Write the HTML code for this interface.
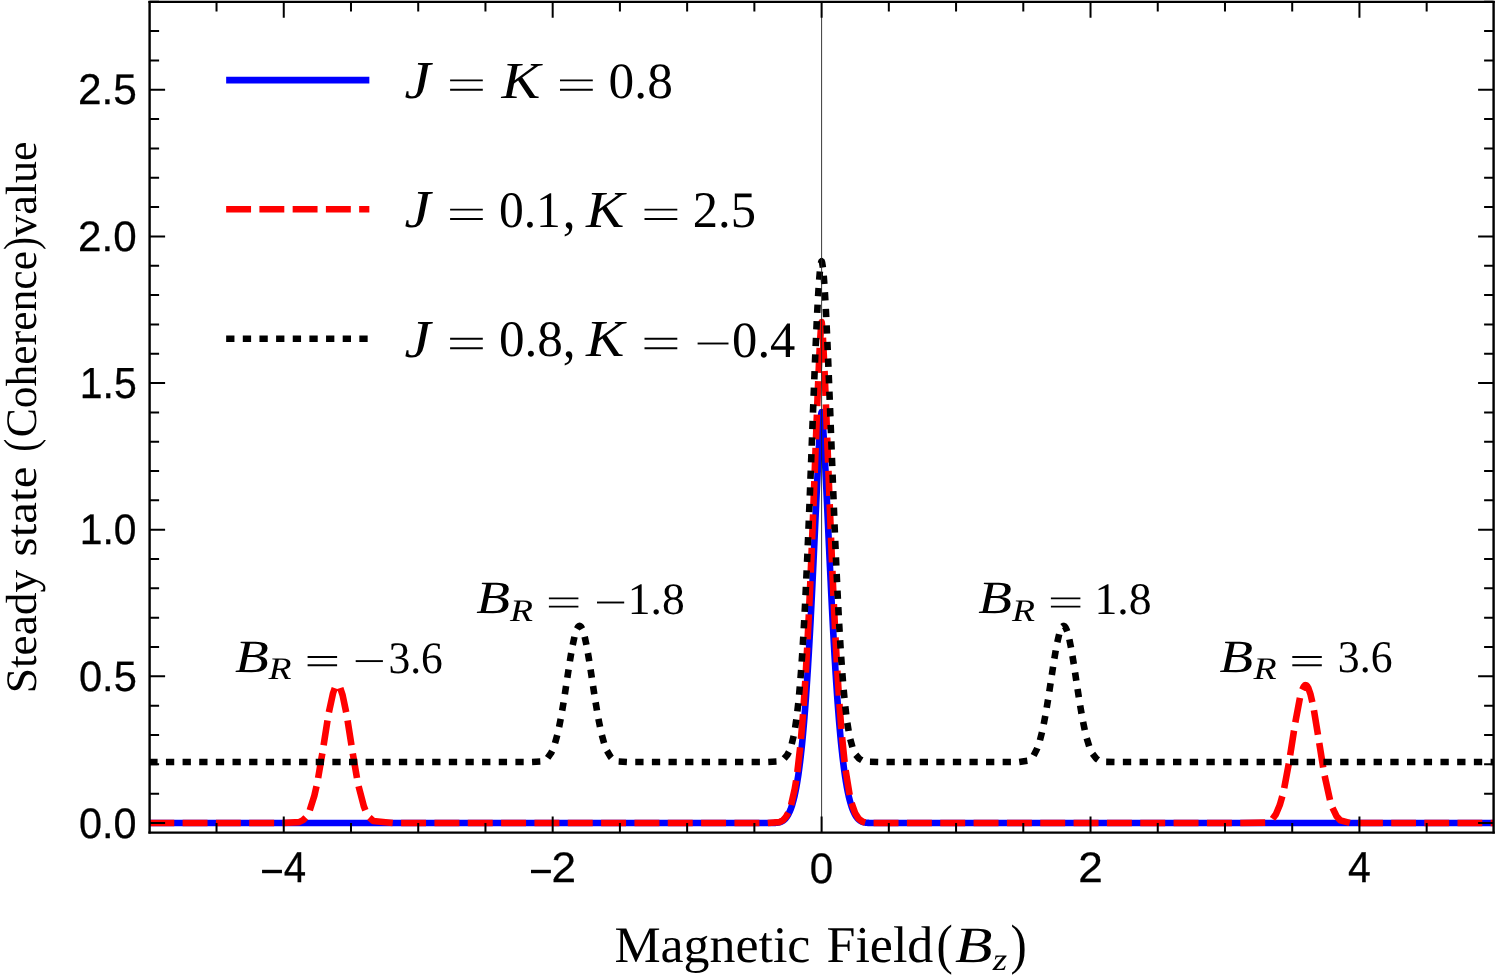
<!DOCTYPE html>
<html><head><meta charset="utf-8"><title>chart</title>
<style>svg text{text-rendering:geometricPrecision}html,body{margin:0;padding:0;background:#fff;overflow:hidden}body{width:1495px;height:978px;font-family:"Liberation Sans",sans-serif}</style></head>
<body>
<svg width="1495" height="978" viewBox="0 0 1495 978" style="display:block;will-change:transform">
<rect width="1495" height="978" fill="#fff"/>
<defs><clipPath id="cp"><rect x="149.60" y="1.75" width="1347.00" height="830.85"/></clipPath></defs>
<g clip-path="url(#cp)" fill="none" stroke-linejoin="round" stroke-linecap="butt">
<path d="M149.30 823.00 L770.84 822.99 L772.19 822.98 L772.86 822.96 L773.53 822.95 L773.87 822.94 L774.20 822.92 L774.54 822.91 L774.88 822.89 L775.21 822.87 L775.55 822.85 L775.88 822.83 L776.22 822.80 L776.56 822.77 L776.89 822.73 L777.23 822.69 L777.56 822.64 L777.90 822.59 L778.24 822.53 L778.57 822.47 L778.91 822.39 L779.25 822.31 L779.58 822.23 L779.92 822.13 L780.25 822.02 L780.59 821.90 L780.93 821.78 L781.26 821.63 L781.60 821.48 L781.93 821.32 L782.27 821.14 L782.61 820.94 L782.94 820.73 L783.28 820.50 L783.62 820.26 L783.95 819.99 L784.29 819.71 L784.62 819.41 L784.96 819.08 L785.30 818.73 L785.63 818.36 L785.97 817.97 L786.30 817.55 L786.64 817.10 L786.98 816.63 L787.31 816.12 L787.65 815.59 L787.99 815.02 L788.32 814.43 L788.66 813.80 L788.99 813.13 L789.33 812.43 L789.67 811.69 L790.00 810.92 L790.34 810.10 L790.67 809.24 L791.01 808.34 L791.35 807.39 L791.68 806.40 L792.02 805.36 L792.35 804.28 L792.69 803.14 L793.03 801.95 L793.36 800.71 L793.70 799.41 L794.04 798.05 L794.37 796.64 L794.71 795.16 L795.04 793.62 L795.38 792.02 L795.72 790.35 L796.05 788.62 L796.39 786.81 L796.72 784.93 L797.06 782.98 L797.40 780.95 L797.73 778.84 L798.07 776.66 L798.41 774.39 L798.74 772.03 L799.08 769.59 L799.41 767.06 L799.75 764.44 L800.09 761.73 L800.42 758.92 L800.76 756.02 L801.09 753.01 L801.43 749.91 L801.77 746.70 L802.10 743.38 L802.44 739.96 L802.78 736.43 L803.11 732.78 L803.45 729.03 L803.78 725.15 L804.12 721.17 L804.46 717.06 L804.79 712.83 L805.13 708.48 L805.46 704.01 L805.80 699.42 L806.14 694.70 L806.47 689.86 L806.81 684.89 L807.15 679.80 L807.48 674.58 L807.82 669.23 L808.15 663.76 L808.49 658.16 L808.83 652.44 L809.16 646.60 L809.50 640.63 L809.83 634.55 L810.17 628.35 L810.51 622.03 L810.84 615.61 L811.18 609.07 L811.52 602.43 L811.85 595.70 L812.19 588.87 L812.52 581.95 L812.86 574.96 L813.20 567.89 L813.53 560.75 L813.87 553.55 L814.20 546.31 L814.54 539.03 L814.88 531.72 L815.21 524.40 L815.55 517.07 L815.89 509.76 L816.22 502.47 L816.56 495.23 L816.89 488.05 L817.23 480.96 L817.57 473.97 L817.90 467.10 L818.24 460.40 L818.57 453.87 L818.91 447.56 L819.25 441.51 L819.58 435.76 L819.92 430.35 L820.26 425.35 L820.59 420.85 L820.93 416.96 L821.26 413.86 L821.60 412.09 L821.94 413.86 L822.27 416.96 L822.61 420.85 L822.94 425.35 L823.28 430.35 L823.62 435.76 L823.95 441.51 L824.29 447.56 L824.63 453.87 L824.96 460.40 L825.30 467.10 L825.63 473.97 L825.97 480.96 L826.31 488.05 L826.64 495.23 L826.98 502.47 L827.31 509.76 L827.65 517.07 L827.99 524.40 L828.32 531.72 L828.66 539.03 L829.00 546.31 L829.33 553.55 L829.67 560.75 L830.00 567.89 L830.34 574.96 L830.68 581.95 L831.01 588.87 L831.35 595.70 L831.68 602.43 L832.02 609.07 L832.36 615.61 L832.69 622.03 L833.03 628.35 L833.37 634.55 L833.70 640.63 L834.04 646.60 L834.37 652.44 L834.71 658.16 L835.05 663.76 L835.38 669.23 L835.72 674.58 L836.05 679.80 L836.39 684.89 L836.73 689.86 L837.06 694.70 L837.40 699.42 L837.74 704.01 L838.07 708.48 L838.41 712.83 L838.74 717.06 L839.08 721.17 L839.42 725.15 L839.75 729.03 L840.09 732.78 L840.42 736.43 L840.76 739.96 L841.10 743.38 L841.43 746.70 L841.77 749.91 L842.11 753.01 L842.44 756.02 L842.78 758.92 L843.11 761.73 L843.45 764.44 L843.79 767.06 L844.12 769.59 L844.46 772.03 L844.79 774.39 L845.13 776.66 L845.47 778.84 L845.80 780.95 L846.14 782.98 L846.48 784.93 L846.81 786.81 L847.15 788.62 L847.48 790.35 L847.82 792.02 L848.16 793.62 L848.49 795.16 L848.83 796.64 L849.16 798.05 L849.50 799.41 L849.84 800.71 L850.17 801.95 L850.51 803.14 L850.85 804.28 L851.18 805.36 L851.52 806.40 L851.85 807.39 L852.19 808.34 L852.53 809.24 L852.86 810.10 L853.20 810.92 L853.53 811.69 L853.87 812.43 L854.21 813.13 L854.54 813.80 L854.88 814.43 L855.22 815.02 L855.55 815.59 L855.89 816.12 L856.22 816.63 L856.56 817.10 L856.90 817.55 L857.23 817.97 L857.57 818.36 L857.90 818.73 L858.24 819.08 L858.58 819.41 L858.91 819.71 L859.25 819.99 L859.58 820.26 L859.92 820.50 L860.26 820.73 L860.59 820.94 L860.93 821.14 L861.27 821.32 L861.60 821.48 L861.94 821.63 L862.27 821.78 L862.61 821.90 L862.95 822.02 L863.28 822.13 L863.62 822.23 L863.95 822.31 L864.29 822.39 L864.63 822.47 L864.96 822.53 L865.30 822.59 L865.64 822.64 L865.97 822.69 L866.31 822.73 L866.64 822.77 L866.98 822.80 L867.32 822.83 L867.65 822.85 L867.99 822.87 L868.32 822.89 L868.66 822.91 L869.00 822.92 L869.33 822.94 L869.67 822.95 L870.34 822.96 L871.01 822.98 L872.02 822.99 L874.04 823.00 L1493.90 823.00" stroke="#0000ff" stroke-width="6.6"/>
<path d="M149.30 823.00 L174.24 823.00 M182.60 823.00 L207.53 823.00 M215.90 823.00 L240.83 823.00 M249.19 823.00 L274.13 823.00 M282.49 823.00 L299.05 822.17 L303.09 820.15 L305.73 817.47 M309.76 810.18 L314.35 795.65 L316.51 786.20 M318.14 778.00 L322.32 753.42 M323.62 745.16 L327.50 720.53 M328.91 712.29 L333.01 693.25 L334.83 688.11 M340.24 688.07 L342.59 695.08 L346.17 712.27 M347.58 720.52 L351.47 745.18 M352.77 753.45 L356.96 778.05 M358.59 786.26 L363.93 806.54 L365.36 810.26 M369.42 817.55 L373.34 821.04 L392.72 823.00 M401.09 823.00 L426.05 823.00 M434.43 823.00 L459.39 823.00 M467.76 823.00 L492.72 823.00 M501.09 823.00 L526.06 823.00 M534.43 823.00 L559.39 823.00 M567.76 823.00 L592.72 823.00 M601.09 823.00 L626.06 823.00 M634.43 823.00 L659.39 823.00 M667.76 823.00 L692.72 823.00 M701.09 823.00 L726.06 823.00 M734.43 823.00 L759.39 823.00 M767.76 823.00 L779.41 822.11 L783.11 820.10 L786.14 816.61 L788.22 812.78 M791.07 804.92 L794.71 789.06 L796.14 780.50 M797.33 772.21 L800.17 747.41 M800.97 739.08 L803.02 714.20 M803.63 705.85 L805.28 680.94 M805.79 672.59 L807.19 647.66 M807.62 639.31 L808.86 614.37 M809.25 606.01 L810.37 581.07 M810.73 572.71 L811.78 547.77 M812.11 539.41 L813.10 514.46 M813.42 506.10 L814.38 481.15 M814.69 472.79 L815.63 447.84 M815.95 439.48 L816.90 414.54 M817.22 406.17 L818.23 381.23 M818.58 372.87 L819.73 347.93 M820.18 339.57 L821.10 325.96 L821.43 322.83 L821.60 322.04 L821.77 322.83 L822.37 329.37 M822.91 337.72 L824.17 362.65 M824.54 371.01 L825.57 395.95 M825.90 404.32 L826.87 429.26 M827.18 437.63 L828.12 462.57 M828.44 470.94 L829.38 495.88 M829.70 504.25 L830.68 529.19 M831.01 537.55 L832.03 562.49 M832.39 570.86 L833.48 595.80 M833.86 604.16 L835.06 629.09 M835.48 637.45 L836.82 662.38 M837.30 670.74 L838.86 695.65 M839.44 704.00 L841.34 728.89 M842.07 737.23 L844.60 762.06 M845.62 770.37 L849.66 795.00 M851.62 803.14 L855.22 813.28 L858.58 818.62 L862.44 821.59 L865.24 822.49 M873.59 822.99 L898.55 823.00 M906.92 823.00 L931.88 823.00 M940.25 823.00 L965.21 823.00 M973.59 823.00 L998.55 823.00 M1006.92 823.00 L1031.88 823.00 M1040.25 823.00 L1065.21 823.00 M1073.59 823.00 L1098.55 823.00 M1106.92 823.00 L1131.88 823.00 M1140.25 823.00 L1165.22 823.00 M1173.59 823.00 L1198.55 823.00 M1206.92 823.00 L1231.88 823.00 M1240.25 823.00 L1265.20 822.59 M1272.56 818.94 L1275.91 814.29 L1279.77 805.06 L1282.31 796.23 M1284.22 788.08 L1288.80 763.54 M1290.14 755.28 L1294.00 730.62 M1295.32 722.35 L1299.93 697.82 M1302.25 689.78 L1303.81 686.53 L1304.82 685.43 L1305.49 685.16 L1306.16 685.25 L1307.00 685.88 L1308.18 687.70 L1310.36 693.84 L1312.35 702.16 M1313.94 710.33 L1317.97 734.82 M1319.25 743.04 L1323.19 767.54 M1324.64 775.73 L1329.99 799.95 M1332.53 807.87 L1336.58 816.23 L1340.45 820.40 L1349.75 822.92 M1358.07 823.00 L1382.89 823.00 M1391.21 823.00 L1416.02 823.00 M1424.34 823.00 L1449.16 823.00 M1457.48 823.00 L1482.29 823.00 M1490.61 823.00 L1493.90 823.00" stroke="#ff0000" stroke-width="6.6"/>
<path d="M149.30 761.99 L157.60 761.99 M165.94 761.99 L174.24 761.99 M182.58 761.99 L190.88 761.99 M199.22 761.99 L207.52 761.99 M215.86 761.99 L224.16 761.99 M232.51 761.99 L240.80 761.99 M249.15 761.99 L257.44 761.99 M265.79 761.99 L274.08 761.99 M282.43 761.99 L290.73 761.99 M299.07 761.99 L307.37 761.99 M315.71 761.99 L324.01 761.99 M332.35 761.99 L340.65 761.99 M348.99 761.99 L357.29 761.99 M365.64 761.99 L373.93 761.99 M382.28 761.99 L390.57 761.99 M398.92 761.99 L407.21 761.99 M415.56 761.99 L423.85 761.99 M432.20 761.99 L440.50 761.99 M448.84 761.99 L457.14 761.99 M465.48 761.99 L473.78 761.99 M482.12 761.99 L490.42 761.99 M498.76 761.99 L507.06 761.99 M515.41 761.99 L523.70 761.99 M532.05 761.99 L540.32 761.57 M547.65 757.90 L551.00 753.18 L552.11 750.95 M555.03 743.14 L557.24 735.15 M559.09 727.01 L560.70 718.87 M562.17 710.66 L563.53 702.48 M564.83 694.23 L566.08 686.03 M567.33 677.78 L568.58 669.58 M569.86 661.33 L571.22 653.15 M572.71 644.94 L574.46 636.83 M576.95 628.87 L578.06 626.89 L578.90 626.10 L579.57 625.90 L580.24 626.10 L581.08 626.89 L582.20 628.87 M584.68 636.81 L586.43 644.91 M587.92 653.12 L589.27 661.29 M590.56 669.53 L591.80 677.72 M593.05 685.96 L594.30 694.15 M595.60 702.39 L596.96 710.56 M598.42 718.77 L600.03 726.90 M601.87 735.03 L604.07 743.01 M606.98 750.82 L610.67 756.98 L611.39 757.79 M618.66 761.54 L626.92 761.99 M635.26 761.99 L643.55 761.99 M651.88 761.99 L660.17 761.99 M668.50 761.99 L676.79 761.99 M685.13 761.99 L693.41 761.99 M701.75 761.99 L710.04 761.99 M718.37 761.99 L726.66 761.99 M734.99 761.99 L743.28 761.99 M751.62 761.99 L759.90 761.99 M768.24 761.95 L776.51 761.51 M784.18 758.54 L787.14 755.16 L788.95 751.86 M791.73 744.01 L793.64 735.95 M795.12 727.74 L796.32 719.55 M797.36 711.27 L798.27 703.04 M799.08 694.74 L799.82 686.49 M800.50 678.18 L801.12 669.92 M801.72 661.60 L802.27 653.33 M802.80 645.02 L803.30 636.74 M803.78 628.42 L804.24 620.15 M804.68 611.82 L805.10 603.55 M805.52 595.22 L805.92 586.95 M806.31 578.62 L806.69 570.34 M807.06 562.01 L807.43 553.74 M807.78 545.41 L808.13 537.13 M808.48 528.80 L808.82 520.52 M809.15 512.19 L809.48 503.91 M809.81 495.58 L810.14 487.30 M810.46 478.97 L810.78 470.69 M811.10 462.36 L811.41 454.08 M811.73 445.75 L812.04 437.47 M812.36 429.14 L812.68 420.86 M812.99 412.53 L813.31 404.25 M813.63 395.92 L813.96 387.64 M814.29 379.31 L814.62 371.03 M814.96 362.70 L815.30 354.42 M815.66 346.09 L816.02 337.82 M816.39 329.49 L816.78 321.21 M817.19 312.88 L817.62 304.61 M818.09 296.29 L818.60 288.02 M819.17 279.70 L819.87 271.44 M820.94 263.18 L821.26 261.88 L821.43 261.49 L821.60 261.33 L821.77 261.49 L822.10 262.46 L822.90 267.41 M823.71 275.69 L824.33 283.94 M824.87 292.24 L825.35 300.49 M825.80 308.80 L826.22 317.06 M826.61 325.37 L826.99 333.63 M827.36 341.94 L827.72 350.20 M828.07 358.51 L828.41 366.78 M828.74 375.09 L829.07 383.35 M829.40 391.66 L829.72 399.93 M830.04 408.24 L830.36 416.50 M830.68 424.82 L830.99 433.08 M831.31 441.39 L831.62 449.66 M831.94 457.97 L832.25 466.23 M832.57 474.55 L832.89 482.81 M833.21 491.12 L833.54 499.39 M833.87 507.70 L834.20 515.96 M834.53 524.28 L834.87 532.54 M835.22 540.85 L835.57 549.11 M835.93 557.42 L836.30 565.69 M836.68 574.00 L837.06 582.26 M837.45 590.57 L837.86 598.83 M838.28 607.13 L838.71 615.39 M839.16 623.70 L839.62 631.96 M840.11 640.26 L840.62 648.52 M841.16 656.82 L841.73 665.07 M842.33 673.36 L842.98 681.61 M843.68 689.90 L844.44 698.13 M845.29 706.41 L846.24 714.62 M847.34 722.87 L848.64 731.04 M850.26 739.19 L852.43 747.17 M855.80 754.76 L859.25 758.73 L861.80 760.25 M869.93 761.80 L878.20 761.98 M886.52 761.99 L894.79 761.99 M903.11 761.99 L911.38 761.99 M919.70 761.99 L927.97 761.99 M936.28 761.99 L944.55 761.99 M952.87 761.99 L961.14 761.99 M969.46 761.99 L977.73 761.99 M986.05 761.99 L994.32 761.99 M1002.64 761.99 L1010.91 761.99 M1019.23 761.95 L1027.37 760.79 M1033.63 755.52 L1037.07 748.84 L1037.34 748.15 M1039.95 740.25 L1041.99 732.24 M1043.74 724.10 L1045.29 715.98 M1046.71 707.78 L1048.04 699.62 M1049.32 691.40 L1050.56 683.23 M1051.81 675.00 L1053.06 666.83 M1054.36 658.61 L1055.74 650.46 M1057.30 642.28 L1059.18 634.23 M1062.36 626.61 L1063.12 626.01 L1063.80 625.91 L1064.47 626.21 L1065.48 627.38 L1066.99 630.73 L1067.21 631.37 M1069.36 639.47 L1071.00 647.64 M1072.45 655.90 L1073.78 664.12 M1075.06 672.41 L1076.30 680.65 M1077.56 688.93 L1078.83 697.17 M1080.16 705.44 L1081.55 713.66 M1083.08 721.90 L1084.77 730.06 M1086.74 738.20 L1089.18 746.17 M1092.56 753.83 L1096.23 758.56 L1098.10 759.93 M1106.16 761.89 L1114.49 761.99 M1122.87 761.99 L1131.20 761.99 M1139.59 761.99 L1147.92 761.99 M1156.30 761.99 L1164.63 761.99 M1173.01 761.99 L1181.35 761.99 M1189.73 761.99 L1198.06 761.99 M1206.44 761.99 L1214.78 761.99 M1223.16 761.99 L1231.49 761.99 M1239.87 761.99 L1248.20 761.99 M1256.59 761.99 L1264.92 761.99 M1273.30 761.99 L1281.63 761.99 M1290.02 761.99 L1298.35 761.99 M1306.73 761.99 L1315.06 761.99 M1323.44 761.99 L1331.78 761.99 M1340.16 761.99 L1348.49 761.99 M1356.87 761.99 L1365.20 761.99 M1373.59 761.99 L1381.92 761.99 M1390.30 761.99 L1398.63 761.99 M1407.02 761.99 L1415.35 761.99 M1423.73 761.99 L1432.06 761.99 M1440.44 761.99 L1448.78 761.99 M1457.16 761.99 L1465.49 761.99 M1473.87 761.99 L1482.20 761.99 M1490.59 761.99 L1493.90 761.99" stroke="#000000" stroke-width="6.6"/>
</g>
<path d="M226.15 80.1 H369.35" stroke="#0000ff" stroke-width="6.6" fill="none"/>
<path d="M226.15 209.3 H369.35" stroke="#ff0000" stroke-width="6.6" stroke-dasharray="24.9 8.35" fill="none"/>
<path d="M226.15 338.8 H369.35" stroke="#000" stroke-width="6.6" stroke-dasharray="8.3 8.35" fill="none"/>
<path d="M821.60 1.75 V832.60" stroke="#222" stroke-width="0.9" fill="none"/>
<path d="M216.53 832.60 v-9.70 M216.53 1.75 v9.70 M283.76 832.60 v-16.00 M283.76 1.75 v16.00 M350.99 832.60 v-9.70 M350.99 1.75 v9.70 M418.22 832.60 v-9.70 M418.22 1.75 v9.70 M485.45 832.60 v-9.70 M485.45 1.75 v9.70 M552.68 832.60 v-16.00 M552.68 1.75 v16.00 M619.91 832.60 v-9.70 M619.91 1.75 v9.70 M687.14 832.60 v-9.70 M687.14 1.75 v9.70 M754.37 832.60 v-9.70 M754.37 1.75 v9.70 M821.60 832.60 v-16.00 M821.60 1.75 v16.00 M888.83 832.60 v-9.70 M888.83 1.75 v9.70 M956.06 832.60 v-9.70 M956.06 1.75 v9.70 M1023.29 832.60 v-9.70 M1023.29 1.75 v9.70 M1090.52 832.60 v-16.00 M1090.52 1.75 v16.00 M1157.75 832.60 v-9.70 M1157.75 1.75 v9.70 M1224.98 832.60 v-9.70 M1224.98 1.75 v9.70 M1292.21 832.60 v-9.70 M1292.21 1.75 v9.70 M1359.44 832.60 v-16.00 M1359.44 1.75 v16.00 M1426.67 832.60 v-9.70 M1426.67 1.75 v9.70 M149.60 823.00 h15.50 M1493.60 823.00 h-15.50 M149.60 793.67 h9.50 M1493.60 793.67 h-9.50 M149.60 764.34 h9.50 M1493.60 764.34 h-9.50 M149.60 735.01 h9.50 M1493.60 735.01 h-9.50 M149.60 705.68 h9.50 M1493.60 705.68 h-9.50 M149.60 676.35 h15.50 M1493.60 676.35 h-15.50 M149.60 647.02 h9.50 M1493.60 647.02 h-9.50 M149.60 617.69 h9.50 M1493.60 617.69 h-9.50 M149.60 588.36 h9.50 M1493.60 588.36 h-9.50 M149.60 559.03 h9.50 M1493.60 559.03 h-9.50 M149.60 529.70 h15.50 M1493.60 529.70 h-15.50 M149.60 500.37 h9.50 M1493.60 500.37 h-9.50 M149.60 471.04 h9.50 M1493.60 471.04 h-9.50 M149.60 441.71 h9.50 M1493.60 441.71 h-9.50 M149.60 412.38 h9.50 M1493.60 412.38 h-9.50 M149.60 383.05 h15.50 M1493.60 383.05 h-15.50 M149.60 353.72 h9.50 M1493.60 353.72 h-9.50 M149.60 324.39 h9.50 M1493.60 324.39 h-9.50 M149.60 295.06 h9.50 M1493.60 295.06 h-9.50 M149.60 265.73 h9.50 M1493.60 265.73 h-9.50 M149.60 236.40 h15.50 M1493.60 236.40 h-15.50 M149.60 207.07 h9.50 M1493.60 207.07 h-9.50 M149.60 177.74 h9.50 M1493.60 177.74 h-9.50 M149.60 148.41 h9.50 M1493.60 148.41 h-9.50 M149.60 119.08 h9.50 M1493.60 119.08 h-9.50 M149.60 89.75 h15.50 M1493.60 89.75 h-15.50 M149.60 60.42 h9.50 M1493.60 60.42 h-9.50 M149.60 31.09 h9.50 M1493.60 31.09 h-9.50 M149.60 1.76 h9.50 M1493.60 1.76 h-9.50" stroke="#000" stroke-width="2.0" fill="none"/>
<path d="M148.40 1.88 H1494.80" stroke="#000" stroke-width="2.15" fill="none"/>
<path d="M148.40 832.60 H1494.80" stroke="#000" stroke-width="2.15" fill="none"/>
<path d="M149.60 0.88 V833.60 M1493.60 0.88 V833.60" stroke="#000" stroke-width="2.4" fill="none"/>
<text stroke="#000" stroke-width="1.3" transform="matrix(0.2070 0 0 0.2134 78.94 837.68)" font-family="'Liberation Sans', sans-serif" font-size="200" fill="#000">0.0</text>
<text stroke="#000" stroke-width="1.3" transform="matrix(0.2084 0 0 0.2132 78.94 690.81)" font-family="'Liberation Sans', sans-serif" font-size="200" fill="#000">0.5</text>
<text stroke="#000" stroke-width="1.3" transform="matrix(0.2040 0 0 0.2139 79.84 544.03)" font-family="'Liberation Sans', sans-serif" font-size="200" fill="#000">1.0</text>
<text stroke="#000" stroke-width="1.3" transform="matrix(0.2052 0 0 0.2177 79.80 397.72)" font-family="'Liberation Sans', sans-serif" font-size="200" fill="#000">1.5</text>
<text stroke="#000" stroke-width="1.3" transform="matrix(0.2105 0 0 0.2142 78.10 251.25)" font-family="'Liberation Sans', sans-serif" font-size="200" fill="#000">2.0</text>
<text stroke="#000" stroke-width="1.3" transform="matrix(0.2122 0 0 0.2144 77.94 104.40)" font-family="'Liberation Sans', sans-serif" font-size="200" fill="#000">2.5</text>
<path d="M262.06 871.5 H281.96" stroke="#000" stroke-width="3.4" fill="none"/>
<text stroke="#000" stroke-width="1.3" transform="matrix(0.2016 0 0 0.2166 283.77 881.90)" font-family="'Liberation Sans', sans-serif" font-size="200" fill="#000">4</text>
<path d="M530.98 871.5 H550.88" stroke="#000" stroke-width="3.4" fill="none"/>
<text stroke="#000" stroke-width="1.3" transform="matrix(0.2205 0 0 0.2134 551.46 881.91)" font-family="'Liberation Sans', sans-serif" font-size="200" fill="#000">2</text>
<text stroke="#000" stroke-width="1.3" transform="matrix(0.2106 0 0 0.2140 809.87 882.62)" font-family="'Liberation Sans', sans-serif" font-size="200" fill="#000">0</text>
<text stroke="#000" stroke-width="1.3" transform="matrix(0.2207 0 0 0.2131 1078.18 881.90)" font-family="'Liberation Sans', sans-serif" font-size="200" fill="#000">2</text>
<text stroke="#000" stroke-width="1.3" transform="matrix(0.2048 0 0 0.2166 1348.08 881.90)" font-family="'Liberation Sans', sans-serif" font-size="200" fill="#000">4</text>
<text transform="matrix(0.2944 0 0 0.2666 404.50 98.24)" font-family="'Liberation Serif', serif" font-size="200" font-style="italic" fill="#000">J</text>
<path d="M450.10 80.40 H482.80 M450.10 89.80 H482.80" stroke="#000" stroke-width="1.90" fill="none"/>
<text transform="matrix(0.2913 0 0 0.2601 501.58 97.54)" font-family="'Liberation Serif', serif" font-size="200" font-style="italic" fill="#000">K</text>
<path d="M560.00 80.40 H592.80 M560.00 89.80 H592.80" stroke="#000" stroke-width="1.90" fill="none"/>
<text transform="matrix(0.2568 0 0 0.2529 608.61 98.48)" font-family="'Liberation Serif', serif" font-size="200" fill="#000">0.8</text>
<text transform="matrix(0.2944 0 0 0.2666 404.50 227.44)" font-family="'Liberation Serif', serif" font-size="200" font-style="italic" fill="#000">J</text>
<path d="M450.10 209.60 H482.80 M450.10 219.00 H482.80" stroke="#000" stroke-width="1.90" fill="none"/>
<text transform="matrix(0.2476 0 0 0.2549 498.90 227.06)" font-family="'Liberation Serif', serif" font-size="200" fill="#000">0.1</text>
<text transform="matrix(0.2573 0 0 0.2771 562.87 227.74)" font-family="'Liberation Serif', serif" font-size="200" fill="#000">,</text>
<text transform="matrix(0.2875 0 0 0.2601 586.07 226.74)" font-family="'Liberation Serif', serif" font-size="200" font-style="italic" fill="#000">K</text>
<path d="M644.50 209.60 H677.30 M644.50 219.00 H677.30" stroke="#000" stroke-width="1.90" fill="none"/>
<text transform="matrix(0.2532 0 0 0.2568 692.72 227.19)" font-family="'Liberation Serif', serif" font-size="200" fill="#000">2.5</text>
<text transform="matrix(0.2944 0 0 0.2666 404.50 356.64)" font-family="'Liberation Serif', serif" font-size="200" font-style="italic" fill="#000">J</text>
<path d="M450.10 338.80 H482.80 M450.10 348.20 H482.80" stroke="#000" stroke-width="1.90" fill="none"/>
<text transform="matrix(0.2554 0 0 0.2547 498.96 356.19)" font-family="'Liberation Serif', serif" font-size="200" fill="#000">0.8</text>
<text transform="matrix(0.2573 0 0 0.2771 562.87 357.10)" font-family="'Liberation Serif', serif" font-size="200" fill="#000">,</text>
<text transform="matrix(0.2875 0 0 0.2601 586.07 355.94)" font-family="'Liberation Serif', serif" font-size="200" font-style="italic" fill="#000">K</text>
<path d="M644.50 338.80 H677.30 M644.50 348.20 H677.30" stroke="#000" stroke-width="1.90" fill="none"/>
<path d="M697.60 343.50 H728.50" stroke="#000" stroke-width="1.90" fill="none"/>
<text transform="matrix(0.2530 0 0 0.2539 732.11 356.90)" font-family="'Liberation Serif', serif" font-size="200" fill="#000">0.4</text>
<text transform="matrix(0.2759 0 0 0.2317 234.88 672.13)" font-family="'Liberation Serif', serif" font-size="200" font-style="italic" fill="#000">B</text>
<text transform="matrix(0.1886 0 0 0.1573 268.61 679.43)" font-family="'Liberation Serif', serif" font-size="200" font-style="italic" fill="#000">R</text>
<path d="M307.60 657.00 H337.10 M307.60 665.20 H337.10" stroke="#000" stroke-width="1.90" fill="none"/>
<path d="M355.70 661.10 H382.90" stroke="#000" stroke-width="1.90" fill="none"/>
<text transform="matrix(0.2173 0 0 0.2252 388.52 672.74)" font-family="'Liberation Serif', serif" font-size="200" fill="#000">3.6</text>
<text transform="matrix(0.2759 0 0 0.2313 476.19 613.49)" font-family="'Liberation Serif', serif" font-size="200" font-style="italic" fill="#000">B</text>
<text transform="matrix(0.1886 0 0 0.1573 509.88 620.83)" font-family="'Liberation Serif', serif" font-size="200" font-style="italic" fill="#000">R</text>
<path d="M548.90 598.40 H578.40 M548.90 606.60 H578.40" stroke="#000" stroke-width="1.90" fill="none"/>
<path d="M597.00 602.50 H624.20" stroke="#000" stroke-width="1.90" fill="none"/>
<text transform="matrix(0.2272 0 0 0.2245 627.82 614.21)" font-family="'Liberation Serif', serif" font-size="200" fill="#000">1.8</text>
<text transform="matrix(0.2759 0 0 0.2313 978.19 613.49)" font-family="'Liberation Serif', serif" font-size="200" font-style="italic" fill="#000">B</text>
<text transform="matrix(0.1886 0 0 0.1573 1011.88 620.83)" font-family="'Liberation Serif', serif" font-size="200" font-style="italic" fill="#000">R</text>
<path d="M1050.90 598.40 H1080.40 M1050.90 606.60 H1080.40" stroke="#000" stroke-width="1.90" fill="none"/>
<text transform="matrix(0.2290 0 0 0.2255 1094.39 613.69)" font-family="'Liberation Serif', serif" font-size="200" fill="#000">1.8</text>
<text transform="matrix(0.2755 0 0 0.2319 1219.55 672.15)" font-family="'Liberation Serif', serif" font-size="200" font-style="italic" fill="#000">B</text>
<text transform="matrix(0.1893 0 0 0.1573 1253.39 679.43)" font-family="'Liberation Serif', serif" font-size="200" font-style="italic" fill="#000">R</text>
<path d="M1292.30 657.00 H1321.80 M1292.30 665.20 H1321.80" stroke="#000" stroke-width="1.90" fill="none"/>
<text transform="matrix(0.2189 0 0 0.2264 1337.83 672.22)" font-family="'Liberation Serif', serif" font-size="200" fill="#000">3.6</text>
<text transform="matrix(0.2594 0 0 0.2567 614.44 961.99)" font-family="'Liberation Serif', serif" font-size="200" fill="#000">Magnetic</text>
<text transform="matrix(0.2596 0 0 0.2576 826.55 961.95)" font-family="'Liberation Serif', serif" font-size="200" fill="#000">Field</text>
<text transform="matrix(0.2437 0 0 0.2777 936.39 962.84)" font-family="'Liberation Serif', serif" font-size="200" fill="#000">(</text>
<text transform="matrix(0.3070 0 0 0.2545 954.90 962.32)" font-family="'Liberation Serif', serif" font-size="200" font-style="italic" fill="#000">B</text>
<text transform="matrix(0.1858 0 0 0.1568 992.63 970.26)" font-family="'Liberation Serif', serif" font-size="200" font-style="italic" fill="#000">z</text>
<text transform="matrix(0.2444 0 0 0.2776 1010.53 962.90)" font-family="'Liberation Serif', serif" font-size="200" fill="#000">)</text>
<g transform="translate(36.0 0) rotate(-90)">
<text transform="matrix(0.2272 0 0 0.2182 -693.37 0.01)" font-family="'Liberation Serif', serif" font-size="200" fill="#000">Steady</text>
<text transform="matrix(0.2449 0 0 0.2187 -556.39 0.17)" font-family="'Liberation Serif', serif" font-size="200" fill="#000">state</text>
<text transform="matrix(0.1946 0 0 0.2335 -451.75 -0.08)" font-family="'Liberation Serif', serif" font-size="200" fill="#000">(</text>
<text transform="matrix(0.2178 0 0 0.2180 -437.26 0.15)" font-family="'Liberation Serif', serif" font-size="200" fill="#000">Coherence</text>
<text transform="matrix(0.1941 0 0 0.2343 -250.09 -0.14)" font-family="'Liberation Serif', serif" font-size="200" fill="#000">)</text>
<text transform="matrix(0.2200 0 0 0.2183 -236.70 0.07)" font-family="'Liberation Serif', serif" font-size="200" fill="#000">value</text>
</g>
</svg>
</body></html>
